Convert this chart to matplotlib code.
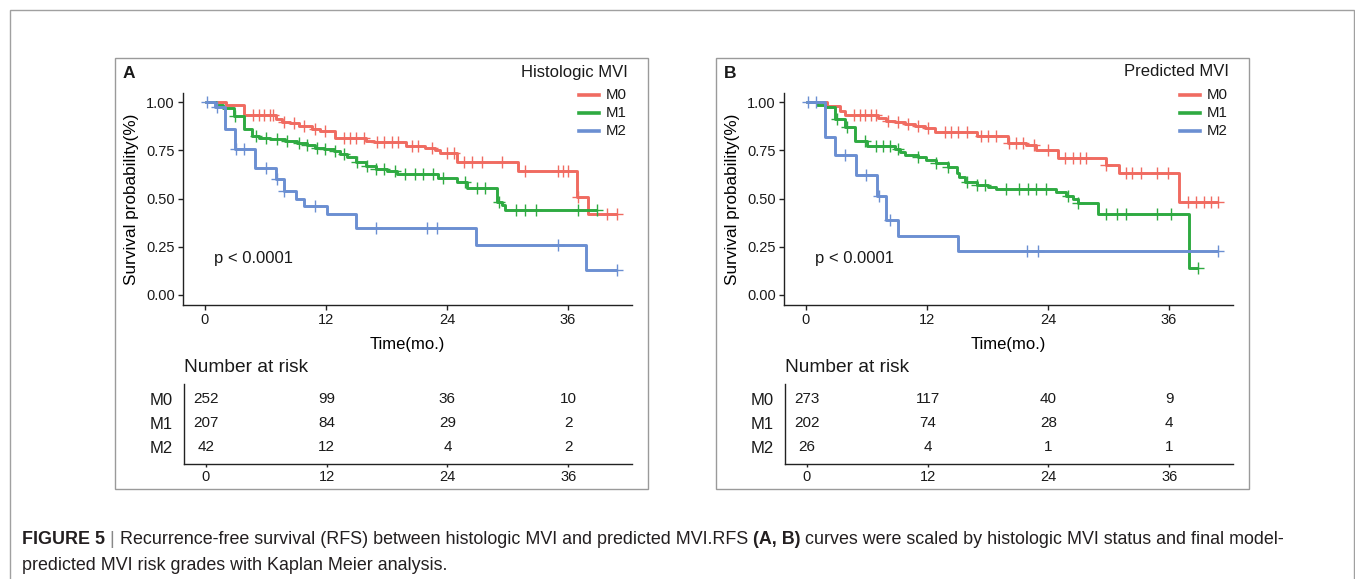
import matplotlib

matplotlib.use("Agg")
import matplotlib.pyplot as plt
import numpy as np
from matplotlib.lines import Line2D
from matplotlib.patches import Rectangle

plt.rcParams.update(
    {
        "font.family": ["Liberation Sans", "DejaVu Sans"],
        "font.size": 11,
        "axes.linewidth": 1.0,
        "xtick.major.width": 1.0,
        "ytick.major.width": 1.0,
        "text.color": "#1a1a1a",
    }
)

W, H = 1355, 579

GROUP_COLORS = {"M0": "#F06B61", "M1": "#2EAA41", "M2": "#6B8FD2"}
GROUPS = ["M0", "M1", "M2"]
RISK_TIMES = [0, 12, 24, 36]

# ---- Panel A: histologic MVI ----
a_m0_times = [0, 2.1, 3.9, 7.0, 7.6, 8.4, 9.3, 10.6, 11.4, 12.9, 16.0, 16.8, 19.9, 21.8, 22.8, 23.3, 25.0, 31.0, 36.9, 38.0]
a_m0_surv = [1.0, 0.985, 0.932, 0.912, 0.90, 0.89, 0.877, 0.863, 0.85, 0.815, 0.80, 0.795, 0.775, 0.762, 0.75, 0.735, 0.689, 0.644, 0.51, 0.418]
a_m0_end = 40.9
a_m0_cens = [4.75, 5.4, 5.9, 6.4, 6.75, 7.8, 8.8, 9.8, 10.9, 11.9, 13.8, 14.4, 15.0, 15.8, 17.1, 17.8, 18.5,
             19.1, 20.5, 21.1, 22.5, 24.0, 24.7, 25.7, 26.5, 27.5, 29.5, 31.7, 35.0, 35.5, 36.0, 37.0, 39.9, 40.9]

a_m1_times = [0, 1.1, 1.8, 2.9, 3.9, 4.7, 5.4, 6.4, 7.9, 9.1, 10.1, 10.9, 11.8, 12.8, 13.4, 14.1, 15.0, 16.0,
              17.0, 18.1, 19.0, 23.1, 25.0, 26.0, 29.0, 29.5, 29.8]
a_m1_surv = [1.0, 0.985, 0.97, 0.93, 0.862, 0.825, 0.815, 0.808, 0.80, 0.79, 0.78, 0.765, 0.755, 0.745, 0.73,
             0.715, 0.69, 0.67, 0.655, 0.645, 0.63, 0.605, 0.585, 0.555, 0.48, 0.465, 0.44]
a_m1_end = 38.9
a_m1_cens = [3.0, 5.1, 6.1, 7.1, 8.1, 9.3, 10.1, 11.1, 11.9, 12.9, 13.8, 15.1, 16.1, 17.0, 17.8, 18.8, 19.8,
             20.8, 21.6, 22.6, 23.6, 25.8, 27.0, 27.8, 29.2, 30.8, 31.7, 32.8, 37.0, 38.9]

a_m2_times = [0, 1.0, 2.0, 3.0, 5.0, 7.0, 7.8, 9.0, 9.8, 12.1, 15.0, 26.9, 37.8]
a_m2_surv = [1.0, 0.975, 0.862, 0.755, 0.657, 0.60, 0.54, 0.50, 0.46, 0.42, 0.345, 0.26, 0.13]
a_m2_end = 40.9
a_m2_cens = [0.2, 1.2, 3.1, 3.9, 6.1, 7.1, 7.8, 10.9, 17.0, 22.0, 23.0, 35.0, 40.9]

a_risk = {"M0": [252, 99, 36, 10], "M1": [207, 84, 29, 2], "M2": [42, 12, 4, 2]}

# ---- Panel B: predicted MVI ----
b_m0_times = [0, 2.1, 3.4, 3.9, 7.1, 7.9, 8.8, 9.8, 10.8, 11.8, 12.8, 17.0, 20.0, 21.8, 22.8, 25.0, 29.8, 31.0, 37.0]
b_m0_surv = [1.0, 0.98, 0.955, 0.935, 0.92, 0.905, 0.895, 0.885, 0.875, 0.865, 0.845, 0.825, 0.79, 0.78, 0.75,
             0.71, 0.675, 0.635, 0.48]
b_m0_end = 40.9
b_m0_cens = [4.75, 5.4, 5.9, 6.4, 6.9, 8.1, 9.1, 10.1, 11.1, 12.1, 13.8, 14.4, 15.1, 16.0, 17.4, 18.1, 18.8,
             20.1, 20.8, 21.5, 22.6, 24.0, 25.7, 26.5, 27.2, 27.8, 29.8, 31.7, 32.3, 33.2, 34.8, 35.9, 37.9,
             38.7, 39.5, 40.2, 40.9]

b_m1_times = [0, 1.1, 1.9, 2.9, 3.9, 4.9, 6.1, 8.8, 9.3, 9.8, 11.1, 11.9, 12.9, 14.1, 15.0, 15.2, 15.8, 17.0,
              18.1, 18.8, 24.8, 25.8, 26.5, 27.0, 29.0, 38.0]
b_m1_surv = [1.0, 0.985, 0.975, 0.915, 0.87, 0.80, 0.775, 0.76, 0.74, 0.725, 0.715, 0.70, 0.685, 0.665, 0.635,
             0.61, 0.585, 0.57, 0.56, 0.55, 0.535, 0.515, 0.50, 0.475, 0.42, 0.14]
b_m1_end = 38.9
b_m1_cens = [3.1, 4.1, 5.9, 6.9, 7.6, 8.3, 9.1, 11.1, 12.9, 14.1, 16.0, 17.0, 17.8, 19.8, 21.1, 22.0, 22.8,
             23.8, 26.0, 27.0, 29.8, 30.8, 31.7, 34.8, 36.2, 38.9]

b_m2_times = [0, 1.9, 2.9, 5.0, 7.0, 7.9, 9.1, 15.1]
b_m2_surv = [1.0, 0.82, 0.725, 0.625, 0.515, 0.39, 0.305, 0.23]
b_m2_end = 40.9
b_m2_cens = [0.2, 1.0, 3.9, 6.0, 7.2, 8.3, 21.9, 23.0, 40.9]

b_risk = {"M0": [273, 117, 40, 9], "M1": [202, 74, 28, 4], "M2": [26, 4, 1, 1]}

PANELS = [
    {
        "label": "A",
        "legend_title": "Histologic MVI",
        "offset": 0,
        "curves": {
            "M0": (a_m0_times, a_m0_surv, a_m0_end, a_m0_cens),
            "M1": (a_m1_times, a_m1_surv, a_m1_end, a_m1_cens),
            "M2": (a_m2_times, a_m2_surv, a_m2_end, a_m2_cens),
        },
        "risk": a_risk,
    },
    {
        "label": "B",
        "legend_title": "Predicted MVI",
        "offset": 601,
        "curves": {
            "M0": (b_m0_times, b_m0_surv, b_m0_end, b_m0_cens),
            "M1": (b_m1_times, b_m1_surv, b_m1_end, b_m1_cens),
            "M2": (b_m2_times, b_m2_surv, b_m2_end, b_m2_cens),
        },
        "risk": b_risk,
    },
]

XLIM = (-2.18, 42.35)
YLIM = (-0.052, 1.048)


def fx(px):
    return px / W


def fy(py):
    return 1 - py / H


def box(fig, x0, y0, x1, y1, color="#9a9a9a", lw=1.0):
    fig.add_artist(
        Rectangle((fx(x0), fy(y1)), fx(x1) - fx(x0), fy(y0) - fy(y1), transform=fig.transFigure,
                  fill=False, edgecolor=color, linewidth=lw)
    )


def draw_km(ax, times, surv, end, cens, color):
    t = list(times) + [end]
    s = list(surv) + [surv[-1]]
    ax.step(t, s, where="post", color=color, linewidth=2.1, solid_capstyle="butt")
    idx = np.searchsorted(np.asarray(times), np.asarray(cens), side="right") - 1
    cy = np.asarray(surv)[idx]
    ax.plot(cens, cy, linestyle="none", marker="+", markersize=8, markeredgewidth=1.0, color=color)


def style_axis(ax):
    for side in ("top", "right"):
        ax.spines[side].set_visible(False)
    for side in ("left", "bottom"):
        ax.spines[side].set_color("#222222")
    ax.tick_params(colors="#222222", labelcolor="#1a1a1a")


def draw_legend(fig, off, title):
    # title right-aligned, entries stacked below it
    fig.text(fx(628 + off), fy(72), title, fontsize=12, ha="right", va="center")
    for g, y in zip(GROUPS, [95, 113, 131]):
        fig.add_artist(Line2D([fx(579 + off), fx(599 + off)], [fy(y), fy(y)], transform=fig.transFigure,
                              color=GROUP_COLORS[g], linewidth=2.6))
        fig.text(fx(606 + off), fy(y), g, fontsize=10.8, ha="left", va="center")


def draw_caption(fig, x_px, y_px, runs, size):
    renderer = fig.canvas.get_renderer()
    x = fx(x_px)
    for text, weight, color in runs:
        t = fig.text(x, fy(y_px), text, fontsize=size, fontweight=weight, color=color, va="center", ha="left")
        bb = t.get_window_extent(renderer)
        x += bb.width / fig.bbox.width


fig = plt.figure(figsize=(W / 100, H / 100), dpi=100)
fig.patch.set_facecolor("white")

# outer frame (bottom edge runs off the page)
box(fig, 10, 10, 1354, 620, color="#a0a0a0")

for panel in PANELS:
    off = panel["offset"]
    box(fig, 115 + off, 58, 648 + off, 489)

    ax = fig.add_axes([fx(183 + off), fy(305), fx(632) - fx(183), fy(93) - fy(305)])
    for g in GROUPS:
        times, surv, end, cens = panel["curves"][g]
        draw_km(ax, times, surv, end, cens, GROUP_COLORS[g])
    ax.set_xlim(*XLIM)
    ax.set_ylim(*YLIM)
    ax.set_xticks(RISK_TIMES)
    ax.set_yticks([0, 0.25, 0.5, 0.75, 1.0])
    ax.set_yticklabels([f"{v:.2f}" for v in [0, 0.25, 0.5, 0.75, 1.0]])
    ax.tick_params(length=3.5, pad=2.5, labelsize=10.5)
    style_axis(ax)
    ax.set_xlabel("Time(mo.)", fontsize=12, labelpad=7)
    ax.set_ylabel("Survival probability(%)", fontsize=12.3, labelpad=5)
    ax.text(0.9, 0.19, "p < 0.0001", fontsize=12, ha="left", va="center")

    fig.text(fx(123 + off), fy(73), panel["label"], fontsize=12.5, fontweight="bold", ha="left", va="center")
    draw_legend(fig, off, panel["legend_title"])

    # number-at-risk table
    tab = fig.add_axes([fx(184 + off), fy(464), fx(632) - fx(184), fy(384) - fy(464)])
    tab.set_xlim(*XLIM)
    tab.set_ylim(0.3, 3.6)
    for row, g in zip([3, 2, 1], GROUPS):
        for t, n in zip(RISK_TIMES, panel["risk"][g]):
            tab.text(t, row, str(n), fontsize=11, ha="center", va="center")
    tab.set_yticks([3, 2, 1])
    tab.set_yticklabels(GROUPS)
    tab.set_xticks(RISK_TIMES)
    style_axis(tab)
    tab.tick_params(axis="y", length=0, pad=8, labelsize=12)
    tab.tick_params(axis="x", length=2.5, pad=1.5, labelsize=10.5)
    tab.set_title("Number at risk", loc="left", fontsize=13.8, pad=9)

caption_1 = [
    ("FIGURE 5", "bold", "#231f20"),
    (" | ", "normal", "#888888"),
    ("Recurrence-free survival (RFS) between histologic MVI and predicted MVI.RFS ", "normal", "#231f20"),
    ("(A, B)", "bold", "#231f20"),
    (" curves were scaled by histologic MVI status and final model-", "normal", "#231f20"),
]
caption_2 = [("predicted MVI risk grades with Kaplan Meier analysis.", "normal", "#231f20")]
draw_caption(fig, 22, 540, caption_1, 12.9)
draw_caption(fig, 22, 566, caption_2, 12.9)

fig.savefig("out.png", dpi=100)
